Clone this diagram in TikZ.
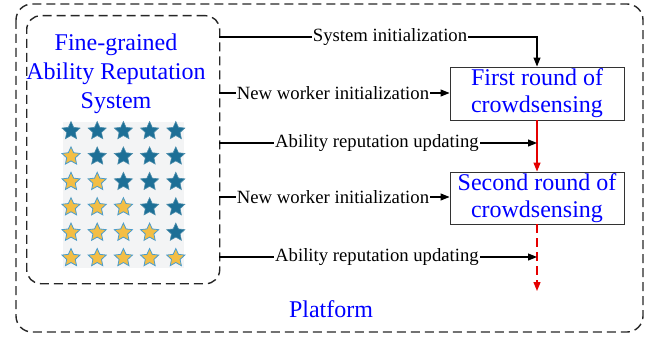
\documentclass[tikz,border=0pt]{standalone}
\usepackage{fontspec}
\setmainfont{Liberation Serif}
\usetikzlibrary{shapes.geometric,arrows.meta}
\definecolor{starblue}{HTML}{1D6F96}
\definecolor{stargold}{HTML}{F3BE45}
\definecolor{staredge}{HTML}{4A9CCC}
\definecolor{panelgray}{HTML}{F3F4F5}
\begin{document}
\begin{tikzpicture}[x=1pt,y=-1pt,
  dashbox/.style={draw=black!85, line width=1.4pt, dash pattern=on 9pt off 5pt},
  bluetxt/.style={text=blue, font=\fontsize{24}{29}\selectfont, inner sep=0pt},
  lbl/.style={fill=white, font=\fontsize{18.7}{22}\selectfont, inner sep=1pt},
  roundbox/.style={draw=black!80, line width=0.9pt, minimum width=174pt, align=center, text=blue, font=\fontsize{24}{27}\selectfont, inner sep=0pt},
  conn/.style={line width=1.1pt, -{Triangle[length=9pt,width=7pt]}},
  redconn/.style={red!90!black, line width=1.3pt, -{Triangle[length=9pt,width=7pt]}},
  bstar/.style={star, star points=5, star point ratio=2.1, minimum size=19pt, inner sep=0pt, fill=starblue, draw=starblue!80!white, line width=0.6pt},
  gstar/.style={star, star points=5, star point ratio=2.1, minimum size=19pt, inner sep=0pt, fill=stargold, draw=staredge, line width=0.8pt}]
\useasboundingbox (0,0) rectangle (660,339);
% outer platform box
\draw[dashbox, rounded corners=16pt] (16,4) rectangle (643,332);
% inner reputation system box
\node[dashbox, rounded corners=14pt, minimum width=193pt, minimum height=268pt, anchor=north west] (ars) at (26,15) {};
\node[bluetxt, align=center] (title) at (116,74) {Fine-grained\\Ability Reputation\\System};
% star panel
\node[fill=panelgray, minimum width=121pt, minimum height=146pt, anchor=north west, inner sep=0pt] (panel) at (63,122) {};
\foreach \r in {0,...,5} {
  \foreach \c in {0,...,4} {
    \ifnum\c<\r
      \node[gstar] (s\r\c) at ({71+26.2*\c},{131+25.4*\r}) {};
    \else
      \node[bstar] (s\r\c) at ({71+26.2*\c},{131+25.4*\r}) {};
    \fi
  }
}
% rounds
\node[roundbox, minimum height=53pt] (r1) at (537,93.5) {First round of\\crowdsensing};
\node[roundbox, minimum height=52pt] (r2) at (537,198) {Second round of\\crowdsensing};
% connector start points on the inner box edge
\coordinate (a1) at (219,37);
\coordinate (a2) at (219,93);
\coordinate (a3) at (219,143);
\coordinate (a4) at (219,197);
\coordinate (a5) at (219,257);
\coordinate (e) at (537,291);
\draw[conn] (a1) -- (r1.north |- a1) -- (r1.north);
\draw[conn] (a2) -- (r1.west |- a2);
\draw[redconn] (r1.south) -- (r2.north);
\draw[conn] (a3) -- (r1.south |- a3);
\draw[conn] (a4) -- (r2.west |- a4);
\draw[redconn, dash pattern=on 9pt off 5pt] (r2.south) -- (e);
\draw[conn] (a5) -- (r2.south |- a5);
\node[lbl] (l1) at (390,37) {System initialization};
\node[lbl] (l2) at (333,93) {New worker initialization};
\node[lbl] (l3) at (377,143) {Ability reputation updating};
\node[lbl] (l4) at (333,197) {New worker initialization};
\node[lbl] (l5) at (377,257) {Ability reputation updating};
\node[bluetxt] (plat) at (331,309) {Platform};
\end{tikzpicture}
\end{document}
